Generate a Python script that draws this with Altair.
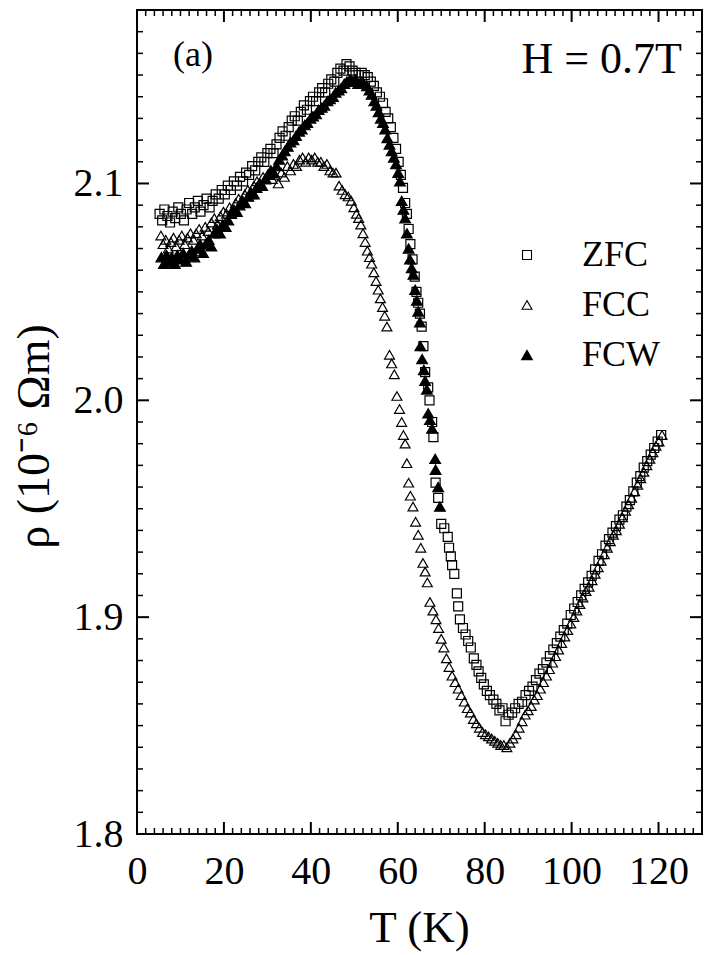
import altair as alt
import pandas as pd

# ---- data (T in K, rho in 1e-6 Ohm m) ----
zfc = [(5.2,2.086),(5.8,2.083),(6.3,2.088),(7.0,2.085),(7.6,2.082),(8.2,2.087),(8.8,2.084),(9.5,2.089),(10.1,2.086),(10.8,2.083),
       (11.4,2.088),(12.0,2.091),(12.7,2.086),(13.3,2.089),(14.0,2.092),(14.6,2.087),(15.3,2.090),(16.0,2.093),(16.7,2.089),(17.4,2.092),
       (18.1,2.095),(18.8,2.093),(19.5,2.097),(20.2,2.095),(20.9,2.099),(21.6,2.097),(22.3,2.101),(23.0,2.099),(23.7,2.103),(24.4,2.101),
       (25.1,2.105),(25.8,2.104),(26.5,2.108),(27.2,2.106),(27.9,2.110),(28.6,2.112),(29.3,2.110),(30.0,2.114),(30.7,2.116),(31.4,2.114),
       (32.1,2.118),(32.8,2.121),(33.5,2.124),(34.2,2.122),(34.9,2.126),(35.6,2.129),(36.3,2.131),(37.0,2.129),(37.7,2.133),(38.4,2.136),
       (39.1,2.134),(39.8,2.138),(40.5,2.140),(41.2,2.138),(41.9,2.142),(42.6,2.144),(43.3,2.142),(44.0,2.146),(44.7,2.148),(45.4,2.147),
       (46.1,2.151),(46.8,2.153),(47.5,2.152),(48.2,2.155),(48.9,2.154),(49.6,2.152),(50.3,2.151),(51.0,2.150),(51.7,2.151),(52.4,2.150),
       (53.1,2.149),(53.8,2.147),(54.5,2.145),(55.2,2.142),(55.9,2.140),(56.6,2.137),(57.2,2.133),(57.8,2.130),(58.4,2.126),(59.0,2.121),
       (59.6,2.116),(60.2,2.110),(60.7,2.104),(61.2,2.098),(61.7,2.091),(62.1,2.086),(62.5,2.079),(62.9,2.072),(63.4,2.065),(63.9,2.057),
       (64.3,2.050),(64.7,2.045),(65.1,2.040),(65.5,2.034),(65.9,2.025),(66.3,2.013),(67.0,2.006),(67.3,2.000),(67.9,1.990),(68.2,1.983),
       (68.7,1.962),(69.3,1.955),(70.0,1.943),(70.7,1.941),(71.5,1.937),(71.8,1.932),(72.2,1.928),(72.5,1.924),(73.0,1.920),(73.6,1.911),
       (73.9,1.905),(74.3,1.899),(75.0,1.895),(75.6,1.892),(76.2,1.889),(76.8,1.886),(77.5,1.881),(78.1,1.878),(78.6,1.875),(79.2,1.872),
       (79.8,1.869),(80.5,1.866),(81.2,1.864),(82.0,1.862),(82.7,1.860),(83.4,1.857),(84.1,1.858),(84.8,1.852),(85.5,1.855),(86.3,1.856),
       (87.0,1.858),(87.8,1.860),(88.6,1.861),(89.4,1.864),(90.2,1.866),(91.0,1.868),(91.8,1.871),(92.6,1.874),(93.4,1.876),(94.2,1.879),
       (95.0,1.882),(95.8,1.885),(96.6,1.888),(97.4,1.891),(98.2,1.894),(99.0,1.897),(99.8,1.901),(100.6,1.904),(101.4,1.907),(102.2,1.910),
       (103.0,1.913),(103.8,1.916),(104.6,1.919),(105.4,1.922),(106.2,1.926),(107.0,1.929),(107.8,1.933),(108.6,1.936),(109.4,1.939),(110.2,1.942),
       (111.0,1.945),(111.8,1.947),(112.6,1.951),(113.4,1.954),(114.2,1.958),(115.0,1.962),(115.8,1.965),(116.6,1.969),(117.4,1.972),(118.2,1.975),
       (119.0,1.978),(119.8,1.981),(120.6,1.984)]

fcc = [(5.5,2.076),(6.0,2.072),(6.6,2.074),(7.2,2.070),(7.8,2.073),(8.4,2.075),(9.0,2.071),(9.7,2.074),(10.3,2.076),(11.0,2.072),
       (11.6,2.075),(12.3,2.077),(13.0,2.074),(13.6,2.077),(14.3,2.079),(15.0,2.076),(15.7,2.080),(16.4,2.078),(17.1,2.082),(17.8,2.084),
       (18.5,2.081),(19.2,2.085),(19.9,2.087),(20.6,2.086),(21.3,2.089),(22.0,2.088),(22.7,2.091),(23.4,2.093),(24.1,2.092),(24.8,2.095),
       (25.5,2.097),(26.2,2.095),(26.9,2.099),(27.6,2.101),(28.3,2.100),(29.0,2.103),(29.7,2.102),(30.4,2.104),(31.1,2.102),(31.8,2.104),
       (32.5,2.100),(33.2,2.105),(33.9,2.103),(34.6,2.108),(35.3,2.106),(36.0,2.109),(36.7,2.108),(37.4,2.111),(38.1,2.112),(38.8,2.110),
       (39.5,2.112),(40.2,2.111),(40.9,2.112),(41.6,2.110),(42.3,2.110),(43.0,2.108),(43.7,2.109),(44.4,2.106),(45.1,2.105),(45.8,2.105),
       (46.5,2.099),(47.2,2.097),(47.9,2.095),(48.6,2.094),(49.3,2.092),(49.9,2.089),(50.5,2.086),(51.0,2.084),(51.5,2.081),(52.0,2.077),
       (52.5,2.073),(53.0,2.069),(53.5,2.066),(54.0,2.063),(54.5,2.059),(55.0,2.055),(55.5,2.051),(56.0,2.047),(56.5,2.043),(57.0,2.039),
       (57.5,2.034),(58.1,2.021),(58.6,2.017),(59.2,2.012),(59.8,2.002),(60.4,1.996),(60.9,1.990),(61.3,1.984),(61.7,1.980),(62.1,1.971),
       (62.5,1.962),(62.9,1.956),(63.5,1.951),(64.1,1.944),(64.7,1.938),(65.3,1.932),(65.8,1.925),(66.3,1.921),(66.8,1.916),(67.4,1.907),
       (68.1,1.903),(68.8,1.899),(69.4,1.895),(70.0,1.890),(70.6,1.886),(71.2,1.881),(71.8,1.877),(72.5,1.873),(73.2,1.870),(73.9,1.867),
       (74.6,1.864),(75.3,1.861),(76.0,1.858),(76.7,1.856),(77.4,1.853),(78.1,1.851),(78.8,1.849),(79.5,1.847),(80.2,1.846),(80.9,1.845),
       (81.6,1.844),(82.3,1.843),(83.0,1.842),(83.7,1.841),(84.4,1.841),(85.1,1.840),(85.8,1.842),(86.5,1.844),(87.2,1.846),(87.9,1.849),
       (88.6,1.852),(89.3,1.855),(90.0,1.857),(90.7,1.859),(91.4,1.862),(92.1,1.864),(92.8,1.867),(93.5,1.870),(94.2,1.873),(94.9,1.876),
       (95.6,1.879),(96.3,1.882),(97.0,1.885),(97.7,1.888),(98.4,1.891),(99.1,1.894),(99.8,1.897),(100.5,1.900),(101.2,1.903),(101.9,1.906),
       (102.6,1.909),(103.3,1.912),(104.0,1.914),(104.7,1.917),(105.4,1.920),(106.1,1.923),(106.8,1.926),(107.5,1.929),(108.2,1.932),(108.9,1.935),
       (109.6,1.938),(110.3,1.940),(111.0,1.943),(111.7,1.946),(112.4,1.949),(113.1,1.952),(113.8,1.955),(114.5,1.958),(115.2,1.961),(115.9,1.964),
       (116.6,1.967),(117.3,1.970),(118.0,1.973),(118.7,1.976),(119.4,1.979),(120.1,1.981),(120.8,1.984)]

fcw = [(5.6,2.066),(6.2,2.063),(6.8,2.067),(7.4,2.064),(8.0,2.066),(8.7,2.063),(9.3,2.067),(10.0,2.065),(10.6,2.068),(11.3,2.064),
       (11.9,2.067),(12.6,2.069),(13.2,2.066),(13.9,2.070),(14.5,2.072),(15.2,2.068),(15.8,2.072),(16.5,2.074),(17.1,2.071),(17.8,2.077),
       (18.4,2.079),(19.1,2.077),(19.7,2.081),(20.4,2.080),(21.0,2.083),(21.7,2.086),(22.3,2.088),(23.0,2.087),(23.6,2.090),(24.3,2.092),
       (24.9,2.091),(25.6,2.094),(26.2,2.096),(26.9,2.095),(27.5,2.098),(28.2,2.100),(28.8,2.099),(29.5,2.102),(30.1,2.104),(30.8,2.106),
       (31.4,2.105),(32.1,2.108),(32.7,2.111),(33.4,2.113),(34.0,2.115),(34.7,2.117),(35.3,2.119),(36.0,2.120),(36.6,2.122),(37.3,2.124),
       (37.9,2.125),(38.6,2.127),(39.2,2.128),(39.9,2.130),(40.5,2.131),(41.2,2.132),(41.8,2.134),(42.5,2.135),(43.1,2.136),(43.8,2.138),
       (44.4,2.139),(45.1,2.140),(45.7,2.142),(46.4,2.143),(47.0,2.144),(47.7,2.146),(48.3,2.147),(49.0,2.148),(49.6,2.147),(50.3,2.148),
       (50.9,2.146),(51.6,2.147),(52.2,2.146),(52.9,2.145),(53.5,2.143),(54.0,2.141),(54.6,2.138),(55.1,2.136),(55.6,2.133),(56.1,2.130),
       (56.6,2.128),(57.1,2.125),(57.6,2.121),(58.1,2.118),(58.6,2.115),(59.1,2.112),(59.6,2.109),(60.1,2.105),(60.5,2.101),(60.9,2.092),
       (61.3,2.088),(61.7,2.084),(62.1,2.077),(62.5,2.070),(62.8,2.065),(63.2,2.061),(63.6,2.058),(64.0,2.051),(64.4,2.046),(64.7,2.041),
       (65.1,2.036),(65.2,2.025),(65.6,2.019),(66.0,2.014),(66.3,2.009),(66.7,2.005),(67.0,1.994),(67.4,1.991),(67.9,1.987),(68.6,1.973),
       (68.7,1.968),(69.3,1.960),(69.7,1.951)]

series_names = ["ZFC", "FCC", "FCW"]
series_shapes = ["square", "triangle-up", "triangle-up"]
series_fills = ["transparent", "transparent", "black"]
series_strokes = ["black", "black", "black"]
series_sizes = [81, 115, 115]

x_major = [0, 20, 40, 60, 80, 100, 120]
x_minor = [v for v in range(0, 131, 2) if v % 20 != 0]
y_major = [1.8, 1.9, 2.0, 2.1]
y_minor = [round(1.80 + 0.01 * i, 2) for i in range(1, 38) if i % 10 != 0]

rows = []
for name, pts in zip(series_names, [zfc, fcc, fcw]):
    for t, r in pts:
        rows.append({"T": t, "rho": r, "series": name})
df = pd.DataFrame(rows)

W, H = 565, 824
FONT = "Liberation Serif"
xs = alt.Scale(domain=[0, 130], nice=False, zero=False)
ys = alt.Scale(domain=[1.8, 2.18], nice=False, zero=False)

leg = alt.Legend(orient="none", legendX=372, legendY=227, title=None,
                 labelFont=FONT, labelFontSize=36, labelColor="black",
                 labelOffset=37, rowPadding=14, padding=0, symbolSize=70,
                 symbolStrokeColor="black", symbolStrokeWidth=1.1)

points = alt.Chart(df).mark_point(filled=True, strokeWidth=1.2, opacity=1).encode(
    x=alt.X("T:Q", scale=xs,
            axis=alt.Axis(values=x_major, format="d", ticks=False, domain=False, grid=False,
                          labelFont=FONT, labelFontSize=40, labelColor="black", labelPadding=17,
                          labelFlush=False, title="T (K)", titleFont=FONT, titleFontSize=45,
                          titleFontWeight="normal", titleColor="black", titleX=282, titleY=107,
                          titleBaseline="alphabetic", titleAlign="center")),
    y=alt.Y("rho:Q", scale=ys,
            axis=alt.Axis(values=y_major, format=".1f", ticks=False, domain=False, grid=False,
                          labelFont=FONT, labelFontSize=40, labelColor="black", labelPadding=14,
                          labelFlush=False, title="ρ (10⁻⁶ Ωm)", titleFont=FONT, titleFontSize=46,
                          titleFontWeight="normal", titleColor="black", titleAngle=270,
                          titleX=-89, titleY=426, titleBaseline="alphabetic", titleAlign="center")),
    shape=alt.Shape("series:N", scale=alt.Scale(domain=series_names, range=series_shapes), legend=leg),
    fill=alt.Fill("series:N", scale=alt.Scale(domain=series_names, range=series_fills), legend=leg),
    stroke=alt.Stroke("series:N", scale=alt.Scale(domain=series_names, range=series_strokes), legend=leg),
    size=alt.Size("series:N", scale=alt.Scale(domain=series_names, range=series_sizes), legend=leg),
)

xmaj = pd.DataFrame({"v": x_major})
xmin = pd.DataFrame({"v": x_minor})
ymaj = pd.DataFrame({"v": y_major})
ymin = pd.DataFrame({"v": y_minor})

def xticks(d, length, sw):
    base = alt.Chart(d).mark_rule(color="black", strokeWidth=sw)
    bottom = base.encode(x=alt.X("v:Q", scale=xs, axis=None), y=alt.value(H), y2=alt.value(H - length))
    top = base.encode(x=alt.X("v:Q", scale=xs, axis=None), y=alt.value(0), y2=alt.value(length))
    return [bottom, top]

def yticks(d, length, sw):
    base = alt.Chart(d).mark_rule(color="black", strokeWidth=sw)
    left = base.encode(y=alt.Y("v:Q", scale=ys, axis=None), x=alt.value(0), x2=alt.value(length))
    right = base.encode(y=alt.Y("v:Q", scale=ys, axis=None), x=alt.value(W), x2=alt.value(W - length))
    return [left, right]

tick_layers = xticks(xmaj, 12, 2) + xticks(xmin, 6, 1.5) + yticks(ymaj, 12, 2) + yticks(ymin, 6, 1.5)

lab_a = alt.Chart(pd.DataFrame({"t": ["(a)"]})).mark_text(
    font=FONT, fontSize=36, align="left", baseline="alphabetic", color="black"
).encode(x=alt.value(36), y=alt.value(56), text="t:N")

lab_h = alt.Chart(pd.DataFrame({"t": ["H = 0.7T"]})).mark_text(
    font=FONT, fontSize=44, align="right", baseline="alphabetic", color="black"
).encode(x=alt.value(545), y=alt.value(63), text="t:N")

chart = alt.layer(*tick_layers, points, lab_a, lab_h).resolve_axis(
    x="independent", y="independent"
).properties(
    width=W, height=H,
    autosize=alt.AutoSizeParams(type="none"),
    padding={"left": 137, "top": 10, "right": 3, "bottom": 121},
    background="white",
).configure_view(
    stroke="black", strokeWidth=2
).configure_axis(
    labelFont=FONT, titleFont=FONT
).configure_legend(
    labelFont=FONT
).configure_text(
    font=FONT
)

chart.save("out.html", embed_options={"renderer": "svg", "actions": False})
